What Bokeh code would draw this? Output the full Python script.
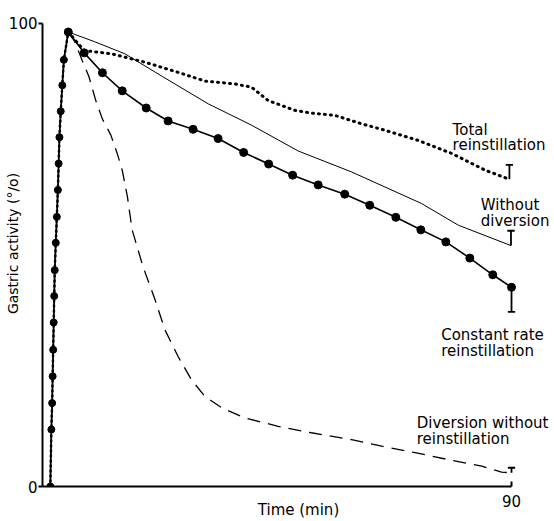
from bokeh.plotting import figure
from bokeh.models import Range1d, FixedTicker, Label
from bokeh.embed import file_html
from bokeh.resources import INLINE

# ---------------- data (time in min, gastric activity in %) ----------------
rise_t = [1.5, 1.7, 1.85, 1.95, 2.05, 2.15, 2.25, 2.35, 2.55, 2.75, 2.95, 3.1, 3.25, 3.5, 3.8, 4.1, 4.95]
rise_v = [0, 12.3, 18.0, 23.8, 29.5, 35.4, 41.1, 46.7, 52.6, 58.2, 64.0, 69.7, 75.4, 81.0, 86.6, 92.1, 98.1]

const_t = [4.95, 8.0, 11.5, 15.3, 19.9, 24.1, 28.9, 33.7, 38.6, 43.4, 48.0, 52.9, 58.0, 62.8, 67.8, 72.6, 77.4, 82.0, 86.4, 90.0]
const_v = [98.1, 93.6, 89.3, 85.4, 81.7, 78.9, 77.1, 75.1, 72.1, 69.6, 67.2, 65.1, 63.1, 60.7, 58.1, 55.4, 52.8, 49.3, 45.7, 43.0]

wd_t = [4.95, 10.0, 15.8, 23.0, 31.8, 40.1, 49.1, 59.3, 72.7, 79.8, 89.9]
wd_v = [98.1, 96.0, 93.4, 88.5, 82.6, 78.0, 72.4, 67.9, 61.1, 56.4, 52.0]

tr_t = [4.95, 6.3, 8.0, 13.2, 19.6, 26.0, 31.2, 36.9, 40.1, 43.3, 48.4, 51.6, 56.1, 61.2, 65.7, 72.1, 78.5, 84.9, 89.6]
tr_v = [98.1, 96.3, 94.1, 93.4, 91.6, 89.4, 87.5, 86.9, 86.2, 83.3, 81.2, 80.6, 80.1, 78.3, 76.9, 74.7, 71.9, 68.3, 66.3]

dv_t = [4.95, 6.2, 7.6, 8.9, 10.2, 11.5, 13.1, 14.3, 15.3, 16.3, 17.2, 19.3, 21.6, 23.5, 26.0, 28.6, 31.2, 34.4, 38.8, 45.2, 51.6, 59.3, 65.1, 71.5, 77.9, 84.3, 88.1, 90.0]
dv_v = [98.1, 96.0, 92.0, 88.5, 83.4, 79.3, 75.9, 72.0, 68.3, 62.5, 55.4, 47.4, 40.3, 33.8, 28.1, 23.0, 19.4, 17.0, 14.8, 13.0, 11.6, 10.1, 8.7, 7.3, 5.8, 4.4, 3.1, 2.95]

# end-point error bars (signed: + upward, - downward)
tr_err = 3.1
wd_err = 3.2
const_err = -5.3
dv_err = 1.1

x_ticks = [90]
y_ticks = [0, 100]
y_tick_labels = {0: "0", 100: "100"}

FONT = "DejaVu Sans"

# ---------------- figure ----------------
p = figure(width=554, height=521, x_range=Range1d(0, 98.25), y_range=Range1d(0, 104.9),
           min_border_left=42, min_border_right=0, min_border_top=0, min_border_bottom=34,
           output_backend="svg", toolbar_location=None, background_fill_color="white",
           border_fill_color="white")
p.outline_line_color = None
p.grid.visible = False

# axes
p.xaxis.ticker = FixedTicker(ticks=x_ticks)
p.xaxis.bounds = (0, 90)
p.xaxis.major_tick_in = 5
p.xaxis.major_tick_out = 0
p.xaxis.minor_tick_line_color = None
p.xaxis.axis_line_width = 2
p.xaxis.major_tick_line_width = 2
p.xaxis.major_label_standoff = 8
p.xaxis.major_label_text_font = FONT
p.xaxis.major_label_text_font_size = "15px"
p.xaxis.major_label_text_color = "black"
p.xaxis.axis_label = "Time (min)"
p.xaxis.axis_label_standoff = -9
p.xaxis.axis_label_text_font = FONT
p.xaxis.axis_label_text_font_size = "15px"
p.xaxis.axis_label_text_font_style = "normal"
p.xaxis.axis_label_text_color = "black"

p.yaxis.ticker = FixedTicker(ticks=y_ticks)
p.yaxis.major_label_overrides = y_tick_labels
p.yaxis.bounds = (0, 100)
p.yaxis.major_tick_in = 0
p.yaxis.major_tick_out = 4
p.yaxis.minor_tick_line_color = None
p.yaxis.axis_line_width = 2
p.yaxis.major_tick_line_width = 2
p.yaxis.major_label_standoff = 1
p.yaxis.major_label_text_font = FONT
p.yaxis.major_label_text_font_size = "15px"
p.yaxis.major_label_text_color = "black"
p.yaxis.axis_label = "Gastric activity (°/o)"
p.yaxis.axis_label_standoff = -15
p.yaxis.axis_label_text_font = FONT
p.yaxis.axis_label_text_font_size = "14px"
p.yaxis.axis_label_text_font_style = "normal"
p.yaxis.axis_label_text_color = "black"

# rising phase (shared)
p.line(rise_t, rise_v, line_color="black", line_width=1.8)
p.line(rise_t, rise_v, line_color="black", line_width=2.5, line_dash="1 4", line_cap="round")
p.scatter(rise_t, rise_v, size=7, color="black")

# series
p.line(tr_t, tr_v, line_color="black", line_width=3, line_dash="1 5", line_cap="round")
p.line(wd_t, wd_v, line_color="black", line_width=1)
p.line(dv_t, dv_v, line_color="black", line_width=1.3, line_dash="13 8")
p.line(const_t, const_v, line_color="black", line_width=1.6)
p.scatter(const_t, const_v, size=8, color="black")

# error bars at end points
cap = 0.7
for ts, vs, e in [(tr_t, tr_v, tr_err), (wd_t, wd_v, wd_err), (const_t, const_v, const_err), (dv_t, dv_v, dv_err)]:
    x_end, y_end = ts[-1], vs[-1]
    p.segment(x0=[x_end], y0=[y_end], x1=[x_end], y1=[y_end + e], line_color="black", line_width=1.8)
    p.segment(x0=[x_end - cap], y0=[y_end + e], x1=[x_end + cap], y1=[y_end + e], line_color="black", line_width=1.8)

# curve labels
series_labels = [
    ("Total", 78.7, 76.9), ("reinstillation", 78.7, 73.7),
    ("Without", 84.1, 60.8), ("diversion", 84.1, 57.3),
    ("Constant rate", 76.5, 32.8), ("reinstillation", 76.5, 29.3),
    ("Diversion without", 71.8, 13.6), ("reinstillation", 71.8, 10.3),
]
for txt, lx, ly in series_labels:
    p.add_layout(Label(x=lx, y=ly, text=txt, text_font=FONT, text_font_size="15px",
                       text_color="black", text_align="left", text_baseline="alphabetic"))

open("out.html", "w").write(file_html(p, INLINE))
